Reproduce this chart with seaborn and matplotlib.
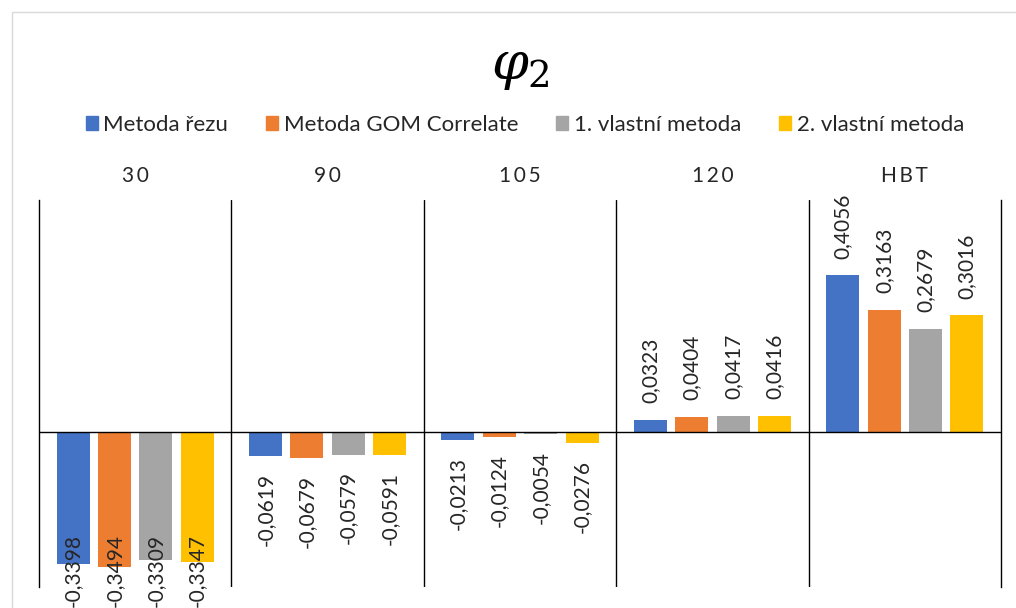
import matplotlib
matplotlib.use("Agg")
import matplotlib.pyplot as plt
import seaborn as sns
import pandas as pd
from matplotlib.patches import Rectangle

# Values of phi_2 for each test case and method
categories = ["30", "90", "105", "120", "HBT"]
methods = ["Metoda řezu", "Metoda GOM Correlate", "1. vlastní metoda", "2. vlastní metoda"]
metoda_rezu = [-0.3398, -0.0619, -0.0213, 0.0323, 0.4056]
metoda_gom = [-0.3494, -0.0679, -0.0124, 0.0404, 0.3163]
vlastni_1 = [-0.3309, -0.0579, -0.0054, 0.0417, 0.2679]
vlastni_2 = [-0.3347, -0.0591, -0.0276, 0.0416, 0.3016]
colors = ["#4472C4", "#ED7D31", "#A5A5A5", "#FFC000"]

series = [metoda_rezu, metoda_gom, vlastni_1, vlastni_2]
rows = []
for m, vals in zip(methods, series):
    for c, v in zip(categories, vals):
        rows.append({"kategorie": c, "metoda": m, "hodnota": v})
df = pd.DataFrame(rows)

sns.set_theme(style="white")
plt.rcParams["font.family"] = ["Lato", "DejaVu Sans"]
plt.rcParams["mathtext.fontset"] = "dejavuserif"
text_color = "#262626"

W, H = 1016, 608
fig = plt.figure(figsize=(W / 100, H / 100), dpi=100)
ax = fig.add_axes([39 / W, 1 - 587 / H, (1001 - 39) / W, (587 - 200) / H])

sns.barplot(data=df, x="kategorie", y="hodnota", hue="metoda", order=categories,
            hue_order=methods, palette=colors, saturation=1, width=0.86, gap=0.2,
            linewidth=0, legend=False, ax=ax)

ax.set_xlim(-0.5, len(categories) - 0.5)
ax.set_ylim(-0.4, 0.6)
ax.set_xlabel("")
ax.set_ylabel("")
ax.set_yticks([])
for s in ["top", "bottom"]:
    ax.spines[s].set_visible(False)
for s in ["left", "right"]:
    ax.spines[s].set_color("black")
    ax.spines[s].set_linewidth(1)
ax.axhline(0, color="black", lw=1, zorder=3)
for i in range(len(categories) - 1):
    ax.axvline(i + 0.5, color="black", lw=1, zorder=3)

# category names on top, letter-spaced
ax.xaxis.tick_top()
ax.set_xticks(range(len(categories)))
ax.set_xticklabels(["\u2009".join(c) for c in categories], fontsize=15, color=text_color)
ax.tick_params(axis="x", length=0, pad=10)

# value labels
labels = []
for cont, vals in zip(ax.containers, series):
    for bar, v in zip(cont, vals):
        x = bar.get_x() + bar.get_width() / 2
        txt = f"{v:.4f}".replace(".", ",")
        off = 12 if v >= 0 else -12
        a = ax.annotate(txt, (x, v), xytext=(0, off), textcoords="offset points",
                        rotation=90, ha="center", va="bottom" if v >= 0 else "top",
                        fontsize=15, color=text_color, annotation_clip=False)
        labels.append(a)

# keep labels inside the chart area
fig.canvas.draw()
for a in labels:
    bb = a.get_window_extent()
    if bb.y0 < 1:
        dx, dy = a.xyann
        a.xyann = (dx, dy + (1 - bb.y0) * 72 / fig.dpi)

# legend
handles = [Rectangle((0, 0), 1, 1, color=c) for c in colors]
fig.legend(handles, methods, loc="center", bbox_to_anchor=(525 / W, 1 - 125 / H),
           ncol=4, frameon=False, handlelength=0.55, handleheight=0.55,
           handletextpad=0.25, columnspacing=1.7, fontsize=16, labelcolor=text_color)

# title
fig.text(520 / W, 1 - 68 / H, r"$\varphi_2$", fontsize=38, ha="center", va="center",
         color="black")

# chart frame
fig.add_artist(Rectangle((12 / W, -0.1), 1.2, 1 - 12 / H + 0.1, transform=fig.transFigure,
                         fill=False, edgecolor="#D9D9D9", lw=1))

fig.savefig("out.png", dpi=100)
